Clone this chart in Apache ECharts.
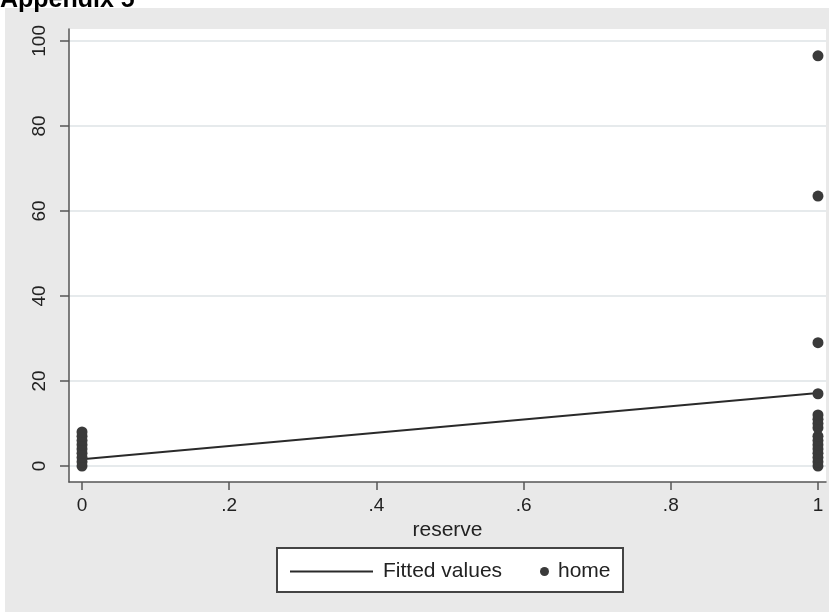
<!DOCTYPE html>
<html>
<head>
<meta charset="utf-8">
<script src="https://cdn.jsdelivr.net/npm/echarts@6/dist/echarts.min.js"></script>
<style>
  html, body { margin: 0; padding: 0; background: #ffffff; }
  #chart { width: 829px; height: 612px; }
</style>
</head>
<body>
<div id="chart"></div>
<script>
// Observed home values by reserve status (0 = no, 1 = yes)
const reserve0Home = [0, 1, 2, 3, 4, 5, 6, 7, 8];
const reserve1Home = [0, 1, 2, 3, 4, 5, 6, 7, 9, 10, 11, 12, 17, 29, 63.5, 96.5];

// Linear fit of home on reserve, evaluated at both ends
const fittedX = [0, 1];
const fittedY = [1.6, 17.2];

const xTicks = [0, 0.2, 0.4, 0.6, 0.8, 1];
const xTickLabels = ['0', '.2', '.4', '.6', '.8', '1'];
const yTicks = [0, 20, 40, 60, 80, 100];

const homePoints = reserve0Home.map(v => [0, v]).concat(reserve1Home.map(v => [1, v]));
const fittedPoints = fittedX.map((x, i) => [x, fittedY[i]]);

const chart = echarts.init(document.getElementById('chart'), null, { renderer: 'canvas' });
const font = '"Liberation Sans", Arial, sans-serif';

chart.setOption({
  animation: false,
  backgroundColor: '#ffffff',
  graphic: [
    { type: 'rect', z: -10, shape: { x: 5, y: 8, width: 824, height: 604 }, style: { fill: '#e9e9e9' } },
    { type: 'text', left: 0, top: -12, z: 10,
      style: { text: 'Appendix 5', font: 'bold 25px ' + font, fill: '#000000' } },
    { type: 'rect', z: 5, shape: { x: 277, y: 548, width: 346, height: 44 },
      style: { fill: '#ffffff', stroke: '#444444', lineWidth: 2 } }
  ],
  grid: {
    left: 69, top: 29, width: 757, height: 453,
    show: true, backgroundColor: '#ffffff', borderWidth: 0
  },
  xAxis: {
    type: 'value',
    min: -0.0177, max: 1.0109,
    name: 'reserve',
    nameLocation: 'middle',
    nameGap: 33,
    nameTextStyle: { fontFamily: font, fontSize: 21, color: '#222222' },
    axisLine: { show: true, onZero: false, lineStyle: { color: '#555555', width: 1.5 } },
    axisTick: { show: true, length: 8, customValues: xTicks, lineStyle: { color: '#555555', width: 1.5 } },
    axisLabel: {
      customValues: xTicks,
      margin: 14,
      fontFamily: font, fontSize: 19, color: '#222222',
      formatter: v => xTickLabels[xTicks.findIndex(t => Math.abs(t - v) < 1e-9)]
    },
    splitLine: { show: false }
  },
  yAxis: {
    type: 'value',
    min: -3.76, max: 102.8,
    axisLine: { show: true, onZero: false, lineStyle: { color: '#555555', width: 1.5 } },
    axisTick: { show: true, length: 9, customValues: yTicks, lineStyle: { color: '#555555', width: 1.5 } },
    axisLabel: {
      customValues: yTicks,
      rotate: 90,
      margin: 20,
      fontFamily: font, fontSize: 19, color: '#222222'
    },
    splitLine: { show: true, lineStyle: { color: '#e6eaec', width: 2 } }
  },
  legend: [
    {
      data: [{ name: 'Fitted values', icon: 'rect' }],
      left: 285, top: 556,
      itemWidth: 83, itemHeight: 2,
      textStyle: { fontFamily: font, fontSize: 21, color: '#222222', padding: [0, 0, 0, 5] },
      selectedMode: false, z: 6
    },
    {
      data: [{ name: 'home', icon: 'circle' }],
      left: 535, top: 556,
      itemWidth: 9, itemHeight: 9,
      textStyle: { fontFamily: font, fontSize: 21, color: '#222222', padding: [0, 0, 0, 4] },
      selectedMode: false, z: 6
    }
  ],
  series: [
    {
      name: 'Fitted values',
      type: 'line',
      data: fittedPoints,
      symbol: 'none',
      lineStyle: { color: '#2a2a2a', width: 2 },
      itemStyle: { color: '#2a2a2a' },
      z: 3
    },
    {
      name: 'home',
      type: 'scatter',
      data: homePoints,
      symbol: 'circle',
      symbolSize: 11,
      itemStyle: { color: '#3a3a3a', opacity: 1 },
      z: 4
    }
  ]
});
</script>
</body>
</html>
